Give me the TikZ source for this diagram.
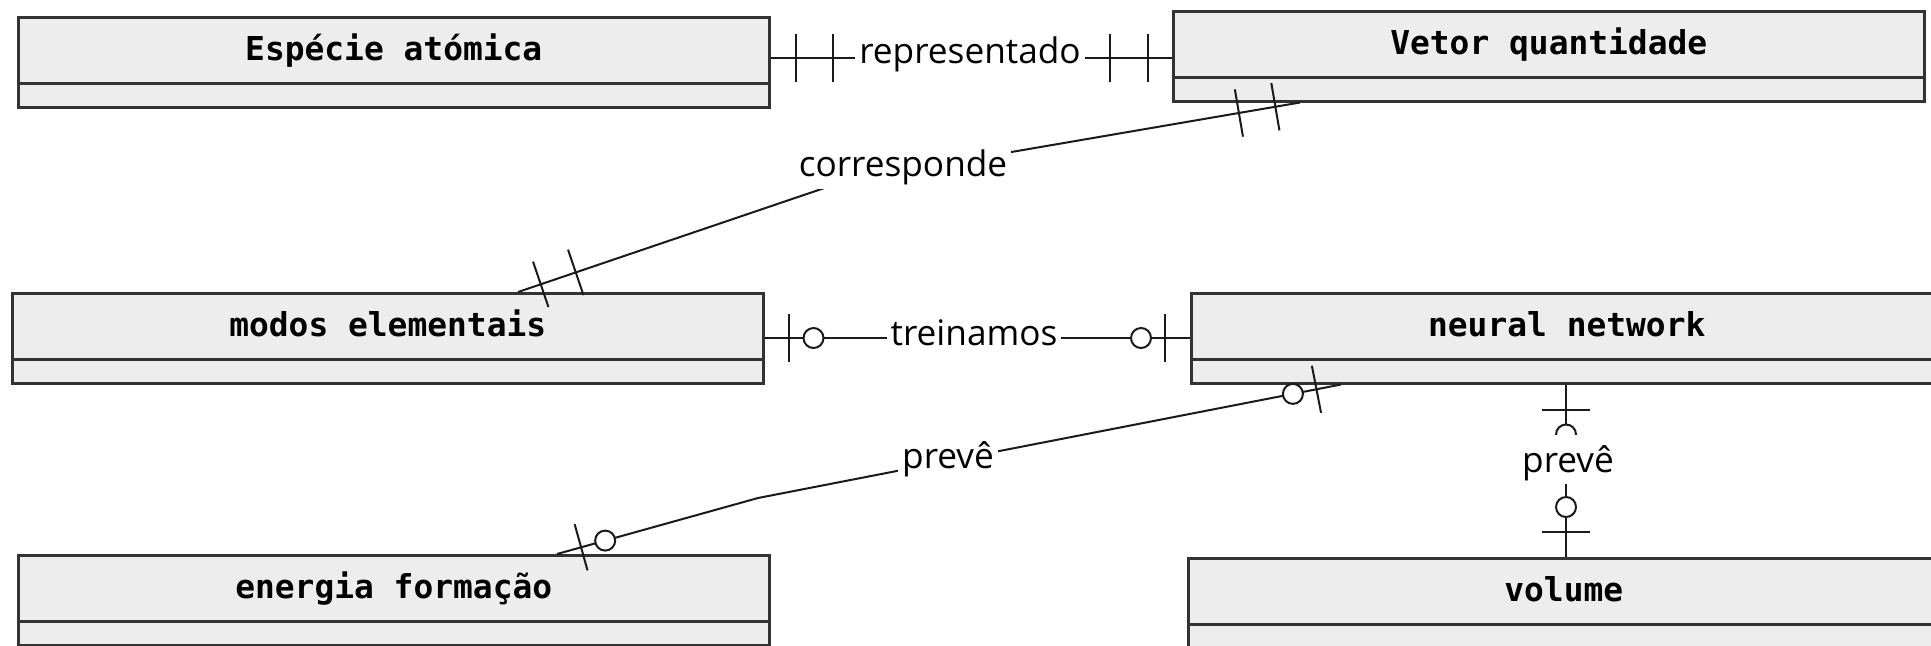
\documentclass[tikz,border=0pt]{standalone}
\usepackage{fontspec}
\setmainfont{Open Sans}
\newfontfamily\titlefont{DejaVu Sans Mono}
\usetikzlibrary{calc}

\definecolor{entfill}{HTML}{EDEDED}
\definecolor{entdraw}{HTML}{333333}
\definecolor{linkcol}{HTML}{1A1A1A}

\tikzset{
  entity/.style={rectangle, draw=entdraw, fill=entfill, line width=1.25pt,
    minimum width=375.5pt, minimum height=45pt, inner sep=0pt, anchor=north west},
  enttitle/.style={anchor=base, inner sep=0pt,
    font=\titlefont\bfseries\fontsize{16.45pt}{20pt}\selectfont},
  entsep/.style={draw=entdraw, line width=1.25pt},
  conn/.style={draw=linkcol, line width=1pt},
  rellabel/.style={anchor=base, fill=white, inner xsep=2pt, inner ysep=1.5pt,
    text height=17pt, text depth=4.5pt, font=\fontsize{17.6pt}{20pt}\selectfont},
}

% crow's-foot marks: bar or ring at a given distance from #1 towards #2
\newcommand\erbar[3]{%
  \path ($(#1)!#3!(#2)$) coordinate (erp);
  \draw[conn] ($(erp)!12pt!90:(#2)$) -- ($(erp)!12pt!-90:(#2)$);}
\newcommand\ercirc[3]{%
  \draw[conn, fill=white] ($(#1)!#3!(#2)$) circle[radius=5pt];}

\begin{document}
\begin{tikzpicture}[x=0.5pt, y=-0.5pt]
\useasboundingbox (0,0) rectangle (1931,645);
\clip (0,0) rectangle (1931,645);

% entities
\node[entity] (b1) at (17,16) {};
\node[entity] (b2) at (1172,10) {};
\node[entity] (b3) at (11,292) {};
\node[entity] (b4) at (1190,292) {};
\node[entity] (b5) at (17,554) {};
\node[entity] (b6) at (1187,557) {};

\foreach \b in {b1,b2,b3,b4,b5,b6}
  \draw[entsep] ([yshift=12.5pt]\b.south west) -- ([yshift=12.5pt]\b.south east);

\node[enttitle] (t1) at ([yshift=-22.25pt]b1.north) {Espécie atómica};
\node[enttitle] (t2) at ([yshift=-22.25pt]b2.north) {Vetor quantidade};
\node[enttitle] (t3) at ([yshift=-22.25pt]b3.north) {modos elementais};
\node[enttitle] (t4) at ([yshift=-22.25pt]b4.north) {neural network};
\node[enttitle] (t5) at ([yshift=-22.25pt]b5.north) {energia formação};
\node[enttitle] (t6) at ([yshift=-22.25pt]b6.north) {volume};

% connector end points and bends
\coordinate (r1) at ([yshift=-21pt]b1.north east);
\coordinate (r2) at (r1 -| b2.west);
\coordinate (c1) at ([xshift=64pt]b2.south west);
\coordinate (cb) at (848,180);
\coordinate (c2) at ([xshift=253.5pt]b3.north west);
\coordinate (n1) at ([yshift=-23pt]b3.north east);
\coordinate (n2) at (n1 -| b4.west);
\coordinate (p1) at ([xshift=75.5pt]b4.south west);
\coordinate (pb) at (758,498);
\coordinate (p2) at ([xshift=270pt]b5.north west);
\coordinate (v1) at ([xshift=188pt]b4.south west);
\coordinate (v2) at (v1 |- b6.north);

% connectors
\draw[conn] (r1) -- (r2);
\draw[conn] (c1) -- (cb) -- (c2);
\draw[conn] (n1) -- (n2);
\draw[conn] (p1) -- (pb) -- (p2);
\draw[conn] (v1) -- (v2);

% cardinality marks
\erbar{r1}{r2}{12.5pt} \erbar{r1}{r2}{31pt}
\erbar{r2}{r1}{12pt} \erbar{r2}{r1}{31pt}
\erbar{c1}{cb}{12.5pt} \erbar{c1}{cb}{31pt}
\erbar{c2}{cb}{12pt} \erbar{c2}{cb}{30.5pt}
\erbar{n1}{n2}{12pt} \ercirc{n1}{n2}{24.5pt}
\erbar{n2}{n1}{12.5pt} \ercirc{n2}{n1}{24.5pt}
\erbar{p1}{pb}{12.5pt} \ercirc{p1}{pb}{24.5pt}
\erbar{p2}{pb}{12.5pt} \ercirc{p2}{pb}{25pt}
\erbar{v1}{v2}{12.5pt} \ercirc{v1}{v2}{25pt}
\erbar{v2}{v1}{12.5pt} \ercirc{v2}{v1}{25pt}

% relationship labels
\node[rellabel] (l1) at (970,63) {representado};
\node[rellabel] (l2) at (903,176.5) {corresponde};
\node[rellabel] (l3) at (974,345.5) {treinamos};
\node[rellabel] (l4) at (948,468) {prevê};
\node[rellabel] (l5) at (1568,472) {prevê};
\end{tikzpicture}
\end{document}
